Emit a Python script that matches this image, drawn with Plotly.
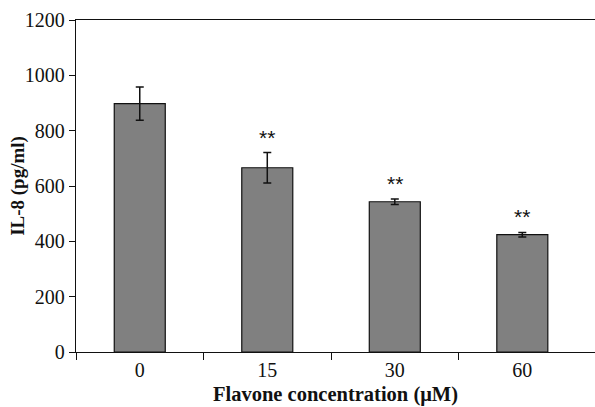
import plotly.graph_objects as go

categories = ["0", "15", "30", "60"]
il8_mean = [898, 666, 543, 424]
il8_err = [60, 55, 10, 8]
sig_labels = ["", "**", "**", "**"]
y_ticks = [0, 200, 400, 600, 800, 1000, 1200]

xpos = list(range(len(categories)))

fig = go.Figure()
fig.add_trace(go.Bar(
    x=xpos, y=il8_mean, width=0.4,
    marker=dict(color="#808080", line=dict(color="#111111", width=1.2)),
    error_y=dict(type="data", array=il8_err, visible=True, color="#111111",
                 thickness=1.5, width=4),
    showlegend=False,
))

for xi, m, e, s in zip(xpos, il8_mean, il8_err, sig_labels):
    if s:
        fig.add_annotation(x=xi, y=m + e, text=s, showarrow=False,
                           yanchor="bottom", yshift=2,
                           font=dict(family="Liberation Sans", size=21, color="#111111"))

serif = "Liberation Serif"

# y-axis title as a rotated paper-anchored annotation
fig.add_annotation(xref="paper", yref="paper", x=-0.112, y=0.5,
                   text="<b>IL-8 (pg/ml)</b>", textangle=-90, showarrow=False,
                   xanchor="center", yanchor="middle",
                   font=dict(family=serif, size=19, color="#111111"))

fig.update_layout(
    width=595, height=407,
    margin=dict(l=76, r=0, t=20, b=55),
    plot_bgcolor="white", paper_bgcolor="white",
    bargap=0.6,
    font=dict(family=serif, size=20, color="#111111"),
    xaxis=dict(
        range=[-0.5, 3.57],
        tickvals=xpos, ticktext=categories,
        ticks="", showgrid=False, zeroline=False,
        showline=True, linecolor="#111111", linewidth=1.3, mirror=True,
        tickfont=dict(family=serif, size=20),
        minor=dict(tickvals=[-0.5, 0.5, 1.5, 2.5], ticks="outside", ticklen=7,
                   tickwidth=1.3, tickcolor="#111111", showgrid=False),
        title=dict(text="<b>Flavone concentration (μM)</b>", standoff=6,
                   font=dict(family=serif, size=20.5)),
    ),
    yaxis=dict(
        range=[0, 1200], tickvals=y_ticks,
        ticks="outside", ticklen=6, tickwidth=1.3, tickcolor="#111111",
        showgrid=False, zeroline=False,
        showline=True, linecolor="#111111", linewidth=1.3,
        tickfont=dict(family=serif, size=20),
    ),
)

fig.write_html("out.html")
